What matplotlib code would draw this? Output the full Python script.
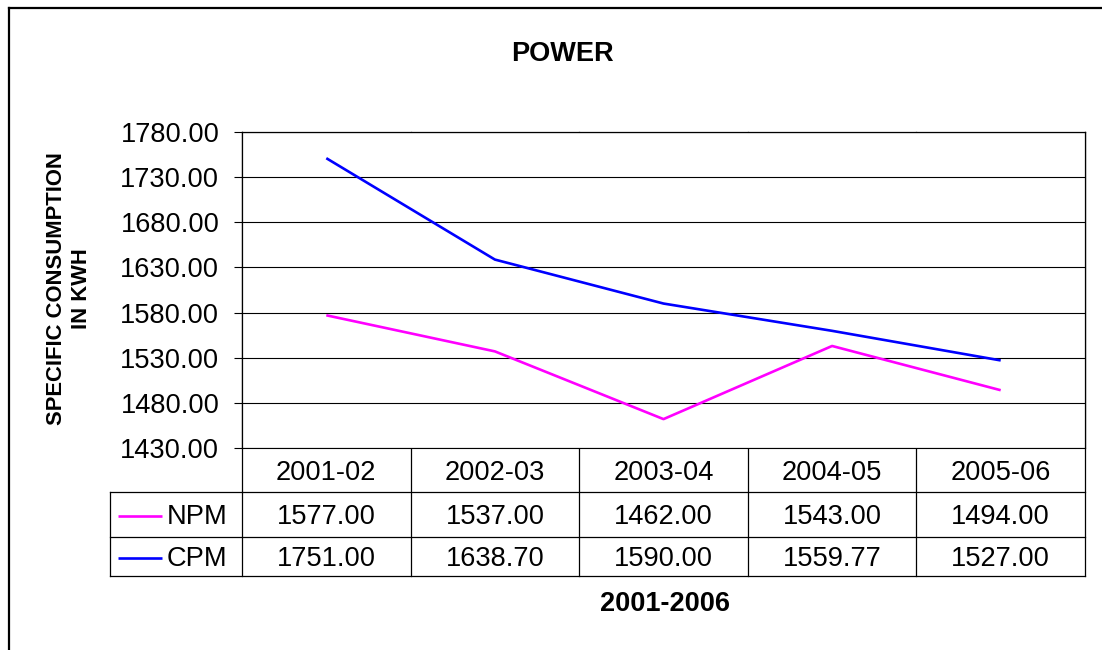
import matplotlib
matplotlib.use("Agg")
import matplotlib.pyplot as plt
from matplotlib.lines import Line2D

plt.rcParams['font.family'] = ['Liberation Sans', 'DejaVu Sans']

categories = ["2001-02", "2002-03", "2003-04", "2004-05", "2005-06"]
npm = [1577.00, 1537.00, 1462.00, 1543.00, 1494.00]
cpm = [1751.00, 1638.70, 1590.00, 1559.77, 1527.00]
series_names = ["NPM", "CPM"]
series_colors = ["#FF00FF", "#0000FF"]
yticks = [1430, 1480, 1530, 1580, 1630, 1680, 1730, 1780]

W, H = 1102, 650
fig = plt.figure(figsize=(W / 100, H / 100), dpi=100)

def fx(px):
    return px / W

def fy(py):
    return 1 - py / H

FS = 19.6

# pixel geometry
PL, PR, PT, PB = 242, 1085, 132, 448
TL = 110
ROWS = [448, 492, 537, 576]

ax = fig.add_axes([fx(PL), fy(PB), fx(PR) - fx(PL), fy(PT) - fy(PB)])
n = len(categories)
xs = [i + 0.5 for i in range(n)]
for vals, col in zip([npm, cpm], series_colors):
    ax.plot(xs, vals, color=col, lw=1.9, solid_capstyle='butt', zorder=3)
ax.set_xlim(0, n)
ax.set_ylim(yticks[0], yticks[-1])
ax.set_yticks(yticks)
ax.set_yticklabels([f"{v:.2f}" for v in yticks], fontsize=FS)
ax.set_xticks([])
ax.yaxis.grid(True, color='black', lw=0.8)
ax.tick_params(axis='y', direction='out', length=5.8, width=0.8, pad=10.5)
for s in ax.spines.values():
    s.set_color('black')
    s.set_linewidth(0.9)
ax.spines['bottom'].set_linewidth(0.8)

# table axes in pixel-like coordinates
tax = fig.add_axes([0, 0, 1, 1], zorder=-1)
tax.set_xlim(0, W)
tax.set_ylim(H, 0)
tax.axis('off')

colw = (PR - PL) / n
bounds = [PL + i * colw for i in range(n + 1)]
lk = dict(color='black', lw=0.9)
for b in bounds:
    tax.plot([b, b], [PT, ROWS[-1]], **lk)
tax.plot([PL, PR], [ROWS[1], ROWS[1]], **lk)
tax.plot([TL, PL], [ROWS[1], ROWS[1]], **lk)
tax.plot([TL, PR], [ROWS[2], ROWS[2]], **lk)
tax.plot([TL, PR], [ROWS[3], ROWS[3]], **lk)
tax.plot([TL, TL], [ROWS[1], ROWS[3]], **lk)

for i, c in enumerate(categories):
    tax.text(PL + (i + 0.5) * colw, (ROWS[0] + ROWS[1]) / 2 + 3, c,
             ha='center', va='center', fontsize=FS)
for r, (name, vals, col) in enumerate(zip(series_names, [npm, cpm], series_colors)):
    yc = (ROWS[r + 1] + ROWS[r + 2]) / 2 + 3
    tax.plot([118, 162], [yc - 2, yc - 2], color=col, lw=1.9, solid_capstyle='butt')
    tax.text(167, yc, name, ha='left', va='center', fontsize=FS)
    for i, v in enumerate(vals):
        tax.text(PL + (i + 0.5) * colw, yc, f"{v:.2f}", ha='center', va='center', fontsize=FS)

fig.text(fx(562), fy(54), "POWER", ha='center', va='center', fontsize=19.5, fontweight='bold')
fig.text(fx(665), fy(604), "2001-2006", ha='center', va='center', fontsize=19.5, fontweight='bold')
fig.text(fx(69), fy(289), "SPECIFIC CONSUMPTION\nIN KWH", ha='center', va='center',
         rotation=90, fontsize=15.8, fontweight='bold', linespacing=1.2)

fig.add_artist(Line2D([fx(9), fx(9)], [fy(8), 0], color='black', lw=1.6, transform=fig.transFigure))
fig.add_artist(Line2D([fx(9), 1], [fy(8), fy(8)], color='black', lw=1.6, transform=fig.transFigure))

fig.savefig("out.png", dpi=100)
